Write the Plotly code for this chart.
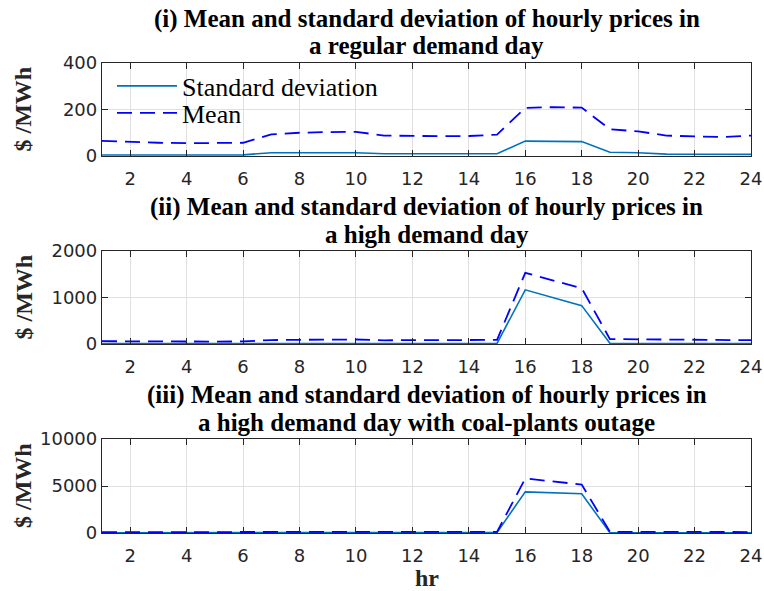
import plotly.graph_objects as go

hours = list(range(1, 25))

std_regular = [4, 4, 4, 5, 5, 5, 14, 14, 14, 14, 10, 10, 10, 10, 10, 64, 64, 62, 16, 14, 8, 7, 7, 7]
mean_regular = [65, 60, 57, 55, 56, 57, 93, 100, 103, 104, 88, 86, 85, 86, 92, 207, 210, 208, 115, 106, 88, 84, 82, 88]

std_high = [8, 8, 8, 8, 8, 8, 12, 12, 12, 12, 10, 10, 10, 10, 12, 1165, 995, 825, 15, 12, 10, 10, 10, 10]
mean_high = [60, 55, 52, 50, 52, 55, 85, 90, 95, 97, 80, 78, 78, 80, 88, 1530, 1370, 1200, 105, 100, 85, 80, 78, 82]

std_outage = [20, 20, 20, 20, 20, 20, 30, 30, 30, 30, 25, 25, 25, 25, 60, 4380, 4280, 4170, 30, 25, 20, 20, 20, 20]
mean_outage = [80, 75, 72, 70, 72, 75, 110, 115, 120, 122, 100, 98, 98, 100, 110, 5800, 5480, 5160, 130, 120, 105, 100, 98, 102]

titles = [
    ("(i) Mean and standard deviation of hourly prices in", "a regular demand day"),
    ("(ii) Mean and standard deviation of hourly prices in", "a high demand day"),
    ("(iii) Mean and standard deviation of hourly prices in", "a high demand day with coal-plants outage"),
]
y_ranges = [[0, 400], [0, 2000], [0, 10000]]
y_ticks = [[0, 200, 400], [0, 1000, 2000], [0, 5000, 10000]]
x_ticks = list(range(2, 25, 2))

W, H = 764, 591


def fx(px):
    return px / W


def fy(py):
    return 1 - py / H


XL, XR = 102, 751
x_dom = [fx(XL), fx(XR)]
pix = [(63, 156), (251, 344), (439, 533)]
y_doms = [[fy(b), fy(t)] for t, b in pix]

STD_COLOR = "#0072BD"
MEAN_COLOR = "#0000FF"
serif = "Liberation Serif"
tickfont = dict(family="DejaVu Sans", size=18, color="#262626")

fig = go.Figure()
series = [(std_regular, mean_regular), (std_high, mean_high), (std_outage, mean_outage)]
for i, (s, m) in enumerate(series):
    xa = "x" if i == 0 else f"x{i+1}"
    ya = "y" if i == 0 else f"y{i+1}"
    fig.add_trace(go.Scatter(x=hours, y=s, mode="lines", name="Standard deviation",
                             line=dict(color=STD_COLOR, width=1.6), xaxis=xa, yaxis=ya,
                             showlegend=(i == 0), legend="legend"))
    fig.add_trace(go.Scatter(x=hours, y=m, mode="lines", name="Mean",
                             line=dict(color=MEAN_COLOR, width=1.8, dash="15px,8px"), xaxis=xa, yaxis=ya,
                             showlegend=(i == 0), legend="legend2"))

layout = {}
for i in range(3):
    xk = "xaxis" if i == 0 else f"xaxis{i+1}"
    yk = "yaxis" if i == 0 else f"yaxis{i+1}"
    ya = "y" if i == 0 else f"y{i+1}"
    xa = "x" if i == 0 else f"x{i+1}"
    layout[xk] = dict(domain=x_dom, anchor=ya, range=[1, 24], tickvals=x_ticks,
                      ticks="inside", ticklen=6, tickcolor="#262626", mirror="ticks",
                      showline=True, linecolor="#262626", linewidth=1.3,
                      showgrid=True, gridcolor="#e0e0e0", gridwidth=1,
                      zeroline=False, tickfont=tickfont, automargin=False,
                      ticklabelstandoff=6)
    layout[yk] = dict(domain=y_doms[i], anchor=xa, range=y_ranges[i], tickvals=y_ticks[i],
                      tickformat="d",
                      ticks="inside", ticklen=6, tickcolor="#262626", mirror="ticks",
                      showline=True, linecolor="#262626", linewidth=1.3,
                      showgrid=True, gridcolor="#e0e0e0", gridwidth=1,
                      zeroline=False, tickfont=tickfont, automargin=False)

annotations = []
xc = fx((XL + XR) / 2)
for i in range(3):
    top = pix[i][0]
    for line, off in zip(titles[i], (44, 17)):
        annotations.append(dict(text="<b>" + line + "</b>", x=xc, y=fy(top - off),
                                xref="paper", yref="paper", xanchor="center", yanchor="middle",
                                showarrow=False, font=dict(family=serif, size=25, color="black")))
    yc = (pix[i][0] + pix[i][1]) / 2
    annotations.append(dict(text="<b>$ /MWh</b>", x=fx(23), y=fy(yc), xref="paper", yref="paper",
                            xanchor="center", yanchor="middle", textangle=-90, showarrow=False,
                            font=dict(family=serif, size=24, color="#262626")))
annotations.append(dict(text="<b>hr</b>", x=xc, y=fy(578), xref="paper", yref="paper",
                        xanchor="center", yanchor="middle", showarrow=False,
                        font=dict(family=serif, size=24, color="#262626")))

legend_common = dict(xanchor="left", yanchor="middle", bgcolor="rgba(0,0,0,0)",
                     font=dict(family=serif, size=26, color="black"), itemwidth=60)

fig.update_layout(
    width=W, height=H,
    margin=dict(l=0, r=0, t=0, b=0, autoexpand=False),
    paper_bgcolor="white", plot_bgcolor="white",
    annotations=annotations,
    legend=dict(x=fx(112), y=fy(86), **legend_common),
    legend2=dict(x=fx(112), y=fy(113), **legend_common),
    **layout,
)

fig.write_html(
    "out.html",
    config={"displayModeBar": False},
    post_script="document.body.style.margin='0';document.body.style.overflow='hidden';",
)
